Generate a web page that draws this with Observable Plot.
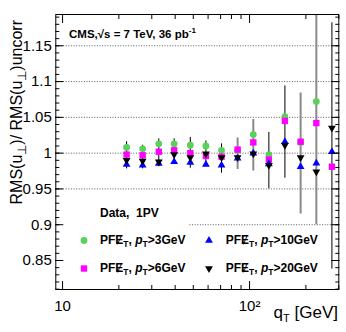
<!DOCTYPE html>
<html>
<head>
<meta charset="utf-8">
<script src="https://cdn.jsdelivr.net/npm/d3@7"></script>
<script src="https://cdn.jsdelivr.net/npm/@observablehq/plot@0.6"></script>
<style>
  html, body { margin: 0; padding: 0; background: #fff; }
  svg { display: block; }
</style>
</head>
<body>
<div id="chart"></div>
<script>
// ---- data ----
const qT = [22.0, 26.8, 32.7, 39.5, 48.2, 58.4, 70.8, 86.3, 104.7, 126.8, 154.5, 187.5, 227.5, 275.6];
const ratioPt3  = [1.008, 1.006, 1.013, 1.013, 1.011, 1.010, 1.004, 1.004, 1.026, 0.998, 1.051, 1.015, 1.072, null];
const ratioPt6  = [0.998, 0.997, 1.002, 1.004, 1.000, 0.996, 0.995, 1.005, 1.015, 0.991, 1.045, 1.016, 1.042, 0.981];
const ratioPt10 = [0.984, 0.983, 0.9855, 0.988, 0.987, 0.984, 0.983, 0.993, 1.000, 0.985, 1.016, 0.981, 0.986, 1.002];
const ratioPt20 = [0.990, 0.989, 0.988, 0.998, 0.994, 0.999, 0.994, 0.994, 0.999, 0.983, 1.011, 0.994, 0.974, 1.035];
const errLow  = [0.978, 0.978, 0.981, 0.985, 0.979, 0.981, 0.972, 0.977, 0.975, 0.950, 0.965, 0.915, 0.900, 0.838];
const errHigh = [1.016, 1.011, 1.020, 1.020, 1.022, 1.017, 1.013, 1.021, 1.047, 1.029, 1.094, 1.084, 1.250, 1.182];
const errKind = ["black","black","black","black","black","black","black","grey","grey","black","black","grey","grey","black"];
const yMajorTicks = [0.85, 0.9, 0.95, 1, 1.05, 1.1, 1.15];
const yMinorTicks = d3.range(81, 120).map(d => d / 100);
const xMajorTicks = [10, 100];
const xMinorTicks = [20, 30, 40, 50, 60, 70, 80, 90, 200, 300];
const gridFull = [0.95, 1, 1.05, 1.1, 1.15];
const gridPartial = [0.9];

const series = [
  {name: "pt3",  values: ratioPt3,  fill: "#5bd05b", symbol: "circle", r: 3.4, rotate: 0},
  {name: "pt6",  values: ratioPt6,  fill: "#ff00ff", symbol: "square", r: 3.6, rotate: 0},
  {name: "pt10", values: ratioPt10, fill: "#0000ff", symbol: "triangle", r: 2.9, rotate: 0},
  {name: "pt20", values: ratioPt20, fill: "#000000", symbol: "triangle", r: 2.9, rotate: 180}
];

const rows = qT.map((x, i) => ({x, lo: errLow[i], hi: errHigh[i], kind: errKind[i]}));

const dotMarks = series.map(s => Plot.dot(
  qT.map((x, i) => ({x, y: s.values[i]})).filter(d => d.y != null),
  {x: "x", y: "y", symbol: s.symbol, r: s.r, fill: s.fill, stroke: "none", rotate: s.rotate}
));

const fontFam = "'Liberation Sans', Arial, Helvetica, sans-serif";

const plot = Plot.plot({
  width: 346,
  height: 332,
  marginLeft: 55.3,
  marginRight: 7.7,
  marginTop: 14,
  marginBottom: 43,
  style: {fontFamily: fontFam, background: "#fff", color: "#000"},
  x: {type: "log", domain: [9.2, 300], axis: null},
  y: {domain: [0.8095, 1.1937], axis: null},
  marks: [
    Plot.ruleY(gridFull, {stroke: "#333", strokeWidth: 0.8, strokeDasharray: "1,1.6"}),
    Plot.ruleY(gridPartial, {x1: 48, x2: 300, stroke: "#333", strokeWidth: 0.8, strokeDasharray: "1,1.6"}),
    Plot.ruleX(rows.filter(d => d.kind === "grey"), {x: "x", y1: "lo", y2: "hi", stroke: "#8a8a8a", strokeWidth: 2, clip: true}),
    Plot.ruleX(rows.filter(d => d.kind === "black"), {x: "x", y1: "lo", y2: "hi", stroke: "#000", strokeWidth: 1, clip: true}),
    ...dotMarks,
    Plot.frame({stroke: "#000", strokeWidth: 1}),
    // inward ticks, all four sides
    Plot.axisY(yMajorTicks, {anchor: "left", tickSize: -8, tickFormat: () => "", label: null}),
    Plot.axisY(yMinorTicks, {anchor: "left", tickSize: -4, tickFormat: () => "", label: null}),
    Plot.axisY(yMajorTicks, {anchor: "right", tickSize: -8, tickFormat: () => "", label: null}),
    Plot.axisY(yMinorTicks, {anchor: "right", tickSize: -4, tickFormat: () => "", label: null}),
    Plot.axisX(xMajorTicks, {anchor: "bottom", tickSize: -8, tickFormat: () => "", label: null}),
    Plot.axisX(xMinorTicks, {anchor: "bottom", tickSize: -4, tickFormat: () => "", label: null}),
    Plot.axisX(xMajorTicks, {anchor: "top", tickSize: -8, tickFormat: () => "", label: null}),
    Plot.axisX(xMinorTicks, {anchor: "top", tickSize: -4, tickFormat: () => "", label: null}),
    // tick labels
    Plot.axisY(yMajorTicks, {anchor: "left", tickSize: 0, tickPadding: 4, fontSize: 15, label: null,
      tickFormat: d => String(d)}),
    Plot.axisX(xMajorTicks, {anchor: "bottom", tickSize: 0, tickPadding: 11, fontSize: 15, label: null,
      tickFormat: d => d === 10 ? "10" : "10²"})
  ]
});

document.getElementById("chart").appendChild(plot);

const svg = d3.select(plot);
const g = svg.append("g").attr("font-family", fontFam).attr("fill", "#000").attr("text-anchor", "start");

// y-axis title
const yt = g.append("text")
  .attr("transform", "translate(22,20) rotate(-90)")
  .attr("text-anchor", "end")
  .attr("font-size", 16);
yt.append("tspan").text("RMS(u");
yt.append("tspan").attr("dy", 4).attr("font-size", 11.5).text("⊥");
yt.append("tspan").attr("dy", -4).text(")/ RMS(u");
yt.append("tspan").attr("dy", 4).attr("font-size", 11.5).text("⊥");
yt.append("tspan").attr("dy", -4).text(")uncorr");

// x-axis title
const xt = g.append("text")
  .attr("x", 338).attr("y", 318)
  .attr("text-anchor", "end")
  .attr("font-size", 17);
xt.append("tspan").text("q");
xt.append("tspan").attr("dy", 4).attr("font-size", 11).text("T");
xt.append("tspan").attr("dy", -4).text(" [GeV]");

// CMS label
const cms = g.append("text").attr("x", 69).attr("y", 38)
  .attr("font-size", 11.5).attr("font-weight", "bold");
cms.append("tspan").text("CMS,√s = 7 TeV, 36 pb");
cms.append("tspan").attr("dy", -5).attr("font-size", 8).text("-1");

g.append("text").attr("x", 100).attr("y", 216.5)
  .attr("font-size", 12).attr("font-weight", "bold")
  .attr("xml:space", "preserve").text("Data,  1PV");

// legend
const legendLabels = ["3GeV", "10GeV", "6GeV", "20GeV"];
const legendPos = [[84, 240.5, 100, 244], [209, 240.5, 225.7, 244], [84, 268.5, 100, 272], [209, 268.5, 225.7, 272]];
const legendSeries = [series[0], series[2], series[1], series[3]];
legendSeries.forEach((s, i) => {
  const [mx, my, tx, ty] = legendPos[i];
  const sym = s.symbol === "circle" ? d3.symbolCircle : s.symbol === "square" ? d3.symbolSquare : d3.symbolTriangle;
  g.append("path")
    .attr("d", d3.symbol(sym, Math.PI * s.r * s.r)())
    .attr("transform", `translate(${mx},${my}) rotate(${s.rotate})`)
    .attr("fill", s.fill);
  const t = g.append("text").attr("x", tx).attr("y", ty)
    .attr("font-size", 12).attr("font-weight", "bold");
  t.append("tspan").text("PFɆ");
  t.append("tspan").attr("dy", 3).attr("font-size", 8.5).text("T");
  t.append("tspan").attr("dy", -3).text(", ");
  t.append("tspan").attr("font-style", "italic").text("p");
  t.append("tspan").attr("dy", 3).attr("font-size", 8.5).text("T");
  t.append("tspan").attr("dy", -3).text(">" + legendLabels[i]);
});
</script>
</body>
</html>
